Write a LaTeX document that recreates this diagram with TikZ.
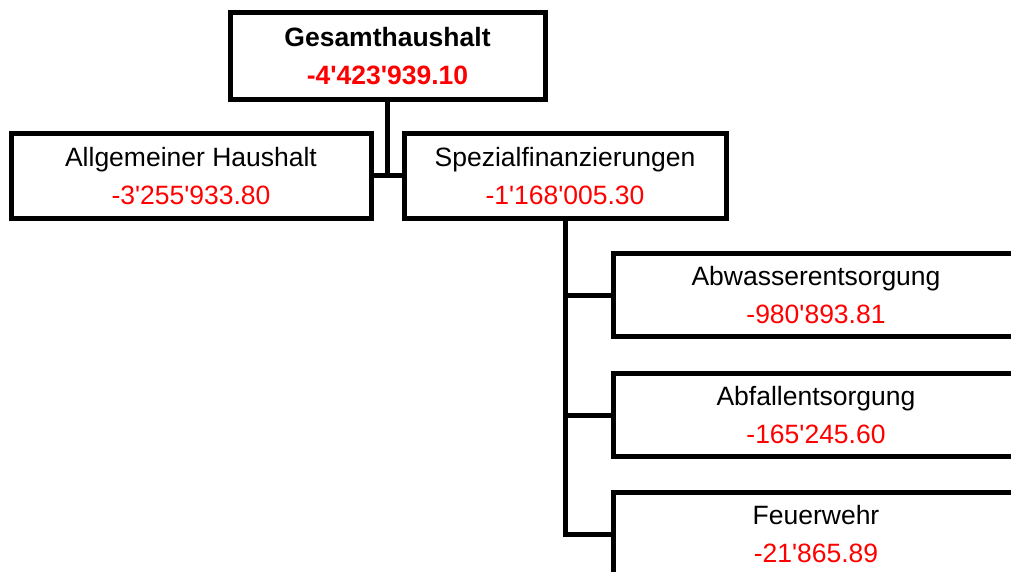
\documentclass[tikz,border=0pt]{standalone}
\usepackage{fontspec}
\newfontfamily\arial{Liberation Sans}
\definecolor{numred}{RGB}{255,0,0}
\tikzset{
  box/.style={draw=black, line width=5pt, fill=white, rectangle, inner sep=0pt,
    align=center, font=\arial\fontsize{26.5}{38}\selectfont},
  conn/.style={draw=black, line width=5pt},
}
\begin{document}
\begin{tikzpicture}[x=1pt,y=-1pt]
\useasboundingbox (0,0) rectangle (1011,572);
\clip (0,0) rectangle (1011,572);
\node[box, minimum width=315pt, minimum height=87pt] (ges) at (387.5,56.5)
  {\textbf{Gesamthaushalt}\\\textcolor{numred}{\textbf{-4'423'939.10}}};
\node[box, minimum width=360pt, minimum height=84pt] (allg) at (191,176)
  {Allgemeiner Haushalt\\\textcolor{numred}{-3'255'933.80}};
\node[box, minimum width=322pt, minimum height=84pt] (spez) at (565,176)
  {Spezialfinanzierungen\\\textcolor{numred}{-1'168'005.30}};
\node[box, minimum width=406pt, minimum height=82.5pt] (abw) at (816,295)
  {Abwasserentsorgung\\\textcolor{numred}{-980'893.81}};
\node[box, minimum width=406pt, minimum height=82.5pt] (abf) at (816,415)
  {Abfallentsorgung\\\textcolor{numred}{-165'245.60}};
\node[box, minimum width=406pt, minimum height=83pt] (feu) at (816,534)
  {Feuerwehr\\\textcolor{numred}{-21'865.89}};
\coordinate (trunkend) at (spez.south |- feu.west);
\draw[conn] (ges.south) -- (ges.south |- allg.east);
\draw[conn] (allg.east) -- (spez.west);
\draw[conn] (spez.south) -- (trunkend) -- (feu.west);
\draw[conn] (spez.south |- abw.west) -- (abw.west);
\draw[conn] (spez.south |- abf.west) -- (abf.west);
\end{tikzpicture}
\end{document}
